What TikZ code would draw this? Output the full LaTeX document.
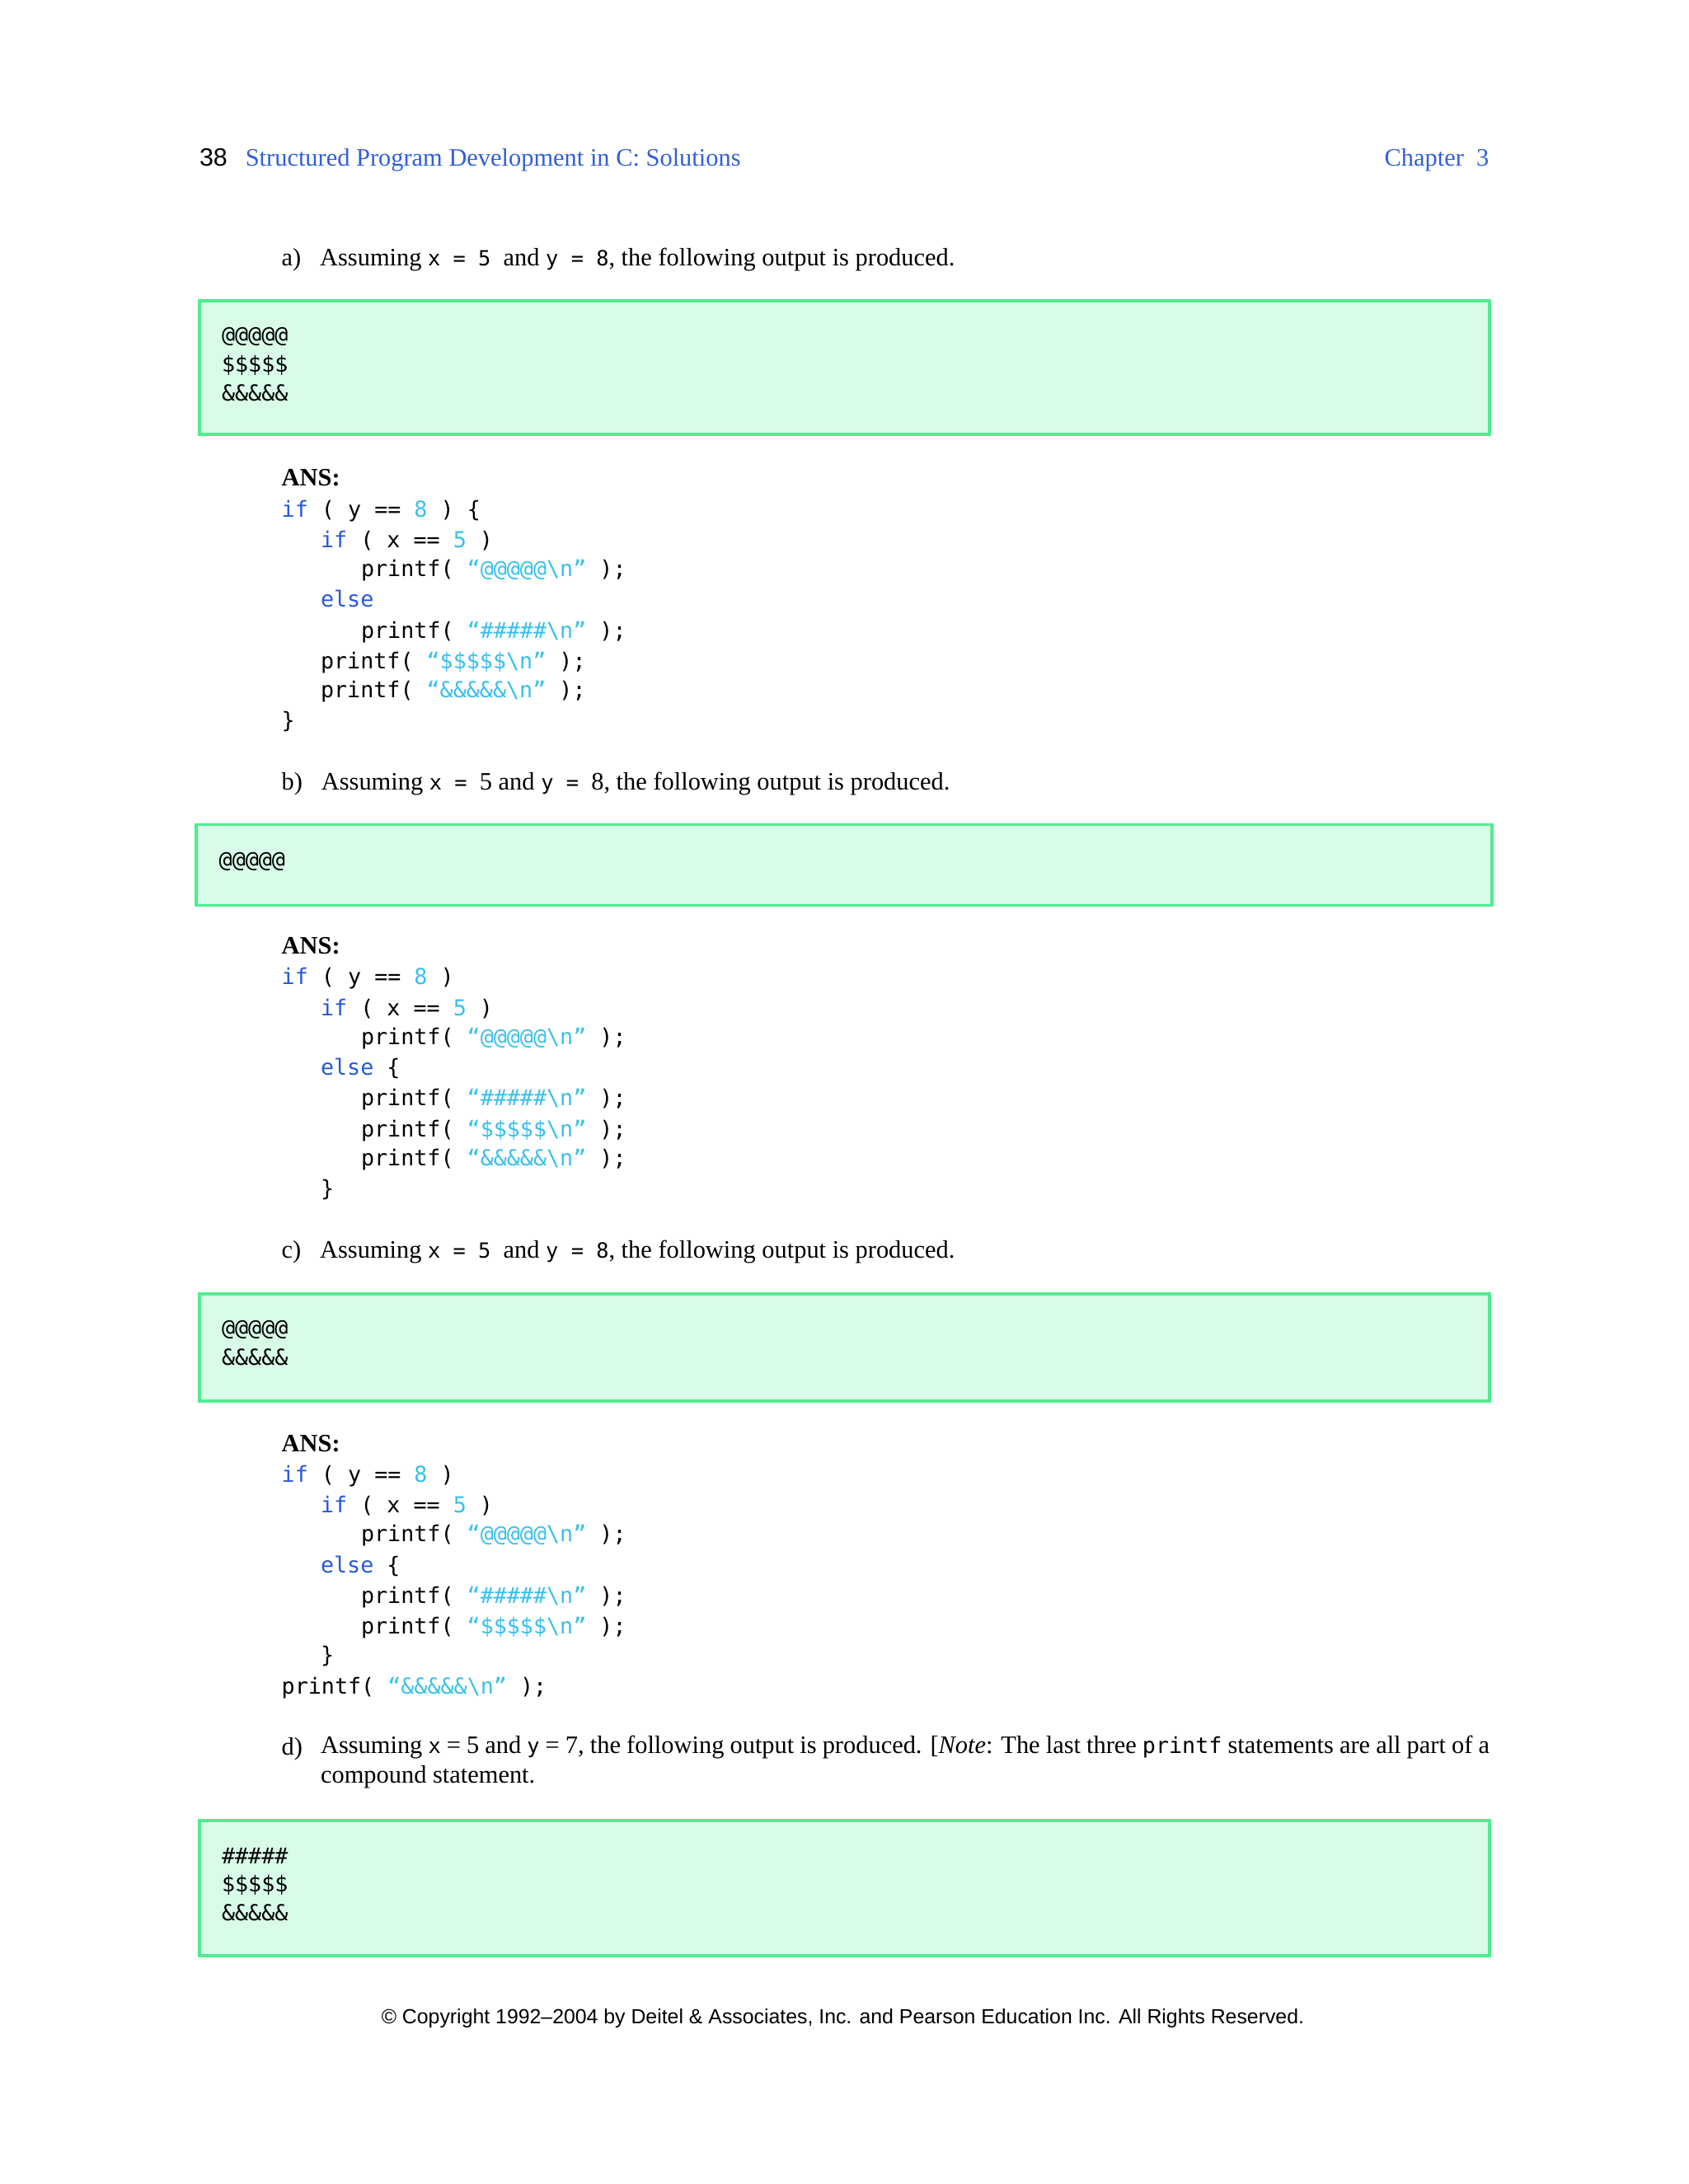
\documentclass[tikz,border=0pt]{standalone}
\usepackage{fontspec}
\setmainfont{Liberation Serif}
\setmonofont{DejaVu Sans Mono}
\newfontfamily\footfont{Liberation Sans}
\newfontfamily\numfont{Liberation Sans}
\definecolor{hdr}{HTML}{3060D8}
\definecolor{kwc}{HTML}{2858D8}
\definecolor{stc}{HTML}{38C0EE}
\definecolor{boxfill}{HTML}{D8FCE8}
\definecolor{boxline}{HTML}{50EC90}
\newcommand\kw[1]{\textcolor{kwc}{#1}}
\newcommand\st[1]{\textcolor{stc}{#1}}
\newcommand\bs{\textbackslash}
\newcommand\tx[1]{{\ttfamily\fontsize{15}{18}\selectfont #1}}
\begin{document}
\begin{tikzpicture}[x=1pt,y=-1pt,
  txt/.style={anchor=base west,inner sep=0pt,font=\fontsize{18}{21.5}\selectfont},
  code/.style={anchor=base west,inner sep=0pt,font=\fontsize{15.8}{19}\ttfamily},
  outbox/.style={draw=boxline,fill=boxfill,line width=2.2pt}]
\useasboundingbox (0,0) rectangle (1212,1568);
\node[anchor=base west,inner sep=0pt,font=\fontsize{18}{21}\numfont] (pg) at (143,119) {38};
\node[txt,text=hdr] (tt) at (176,119) {Structured Program Development in C: Solutions};
\node[anchor=base east,inner sep=0pt,font=\fontsize{18}{21}\selectfont,text=hdr] (ch) at (1069,119) {Chapter\ \ 3};
% a
\node[txt] (la) at (202,191) {a)\ \ \ Assuming \tx{x = 5}\ \ and \tx{y = 8}, the following output is produced.};
\draw[outbox] (143,216) rectangle (1069,312);
\node[code] (o1) at (159,246) {@@@@@};
\node[code] (o2) at (159,267) {\$\$\$\$\$};
\node[code] (o3) at (159,288) {\&\&\&\&\&};
\node[txt,font=\fontsize{18}{21}\bfseries] (ansa) at (202,349) {ANS:};
\node[code] at (202,371) {\kw{if} ( y == \st{8} ) \{};
\node[code] at (230,393) {\kw{if} ( x == \st{5} )};
\node[code] at (259,414) {printf( \st{“@@@@@\bs n”} );};
\node[code] at (230,436) {\kw{else}};
\node[code] at (259,458) {printf( \st{“\#\#\#\#\#\bs n”} );};
\node[code] at (230,480) {printf( \st{“\$\$\$\$\$\bs n”} );};
\node[code] at (230,501) {printf( \st{“\&\&\&\&\&\bs n”} );};
\node[code] at (202,523) {\}};
% b
\node[txt] (lb) at (202,567) {b)\ \ \ Assuming \tx{x = }5 and \tx{y = }8, the following output is produced.};
\draw[outbox] (141,592) rectangle (1071,650);
\node[code] (o4) at (157,623) {@@@@@};
\node[txt,font=\fontsize{18}{21}\bfseries] at (202,685) {ANS:};
\node[code] at (202,707) {\kw{if} ( y == \st{8} )};
\node[code] at (230,729) {\kw{if} ( x == \st{5} )};
\node[code] at (259,750) {printf( \st{“@@@@@\bs n”} );};
\node[code] at (230,772) {\kw{else} \{};
\node[code] at (259,794) {printf( \st{“\#\#\#\#\#\bs n”} );};
\node[code] at (259,816) {printf( \st{“\$\$\$\$\$\bs n”} );};
\node[code] at (259,837) {printf( \st{“\&\&\&\&\&\bs n”} );};
\node[code] at (230,859) {\}};
% c
\node[txt] at (202,903) {c)\ \ \ Assuming \tx{x = 5}\ \ and \tx{y = 8}, the following output is produced.};
\draw[outbox] (143,929) rectangle (1069,1006);
\node[code] at (159,959) {@@@@@};
\node[code] at (159,980) {\&\&\&\&\&};
\node[txt,font=\fontsize{18}{21}\bfseries] at (202,1042) {ANS:};
\node[code] at (202,1064) {\kw{if} ( y == \st{8} )};
\node[code] at (230,1086) {\kw{if} ( x == \st{5} )};
\node[code] at (259,1107) {printf( \st{“@@@@@\bs n”} );};
\node[code] at (230,1129) {\kw{else} \{};
\node[code] at (259,1151) {printf( \st{“\#\#\#\#\#\bs n”} );};
\node[code] at (259,1173) {printf( \st{“\$\$\$\$\$\bs n”} );};
\node[code] at (230,1194) {\}};
\node[code] at (202,1216) {printf( \st{“\&\&\&\&\&\bs n”} );};
% d
\node[txt] at (202,1260) {d)};
\node[txt,anchor=north west,text width=839pt,align=justify] at (230,1246) {Assuming \tx{x} = 5 and \tx{y} = 7, the following output is produced. [\textit{Note}: The last three {\ttfamily\fontsize{15.8}{18}\selectfont printf} statements are all part of a\linebreak compound statement.\par};
\draw[outbox] (143,1307) rectangle (1069,1404);
\node[code] at (159,1338) {\#\#\#\#\#};
\node[code] at (159,1358) {\$\$\$\$\$};
\node[code] at (159,1379) {\&\&\&\&\&};
\node[anchor=base,inner sep=0pt,font=\fontsize{14.7}{17}\footfont] (ft) at (605,1453) {© Copyright 1992–2004 by Deitel \& Associates, Inc. and Pearson Education Inc. All Rights Reserved.};
\end{tikzpicture}
\end{document}
